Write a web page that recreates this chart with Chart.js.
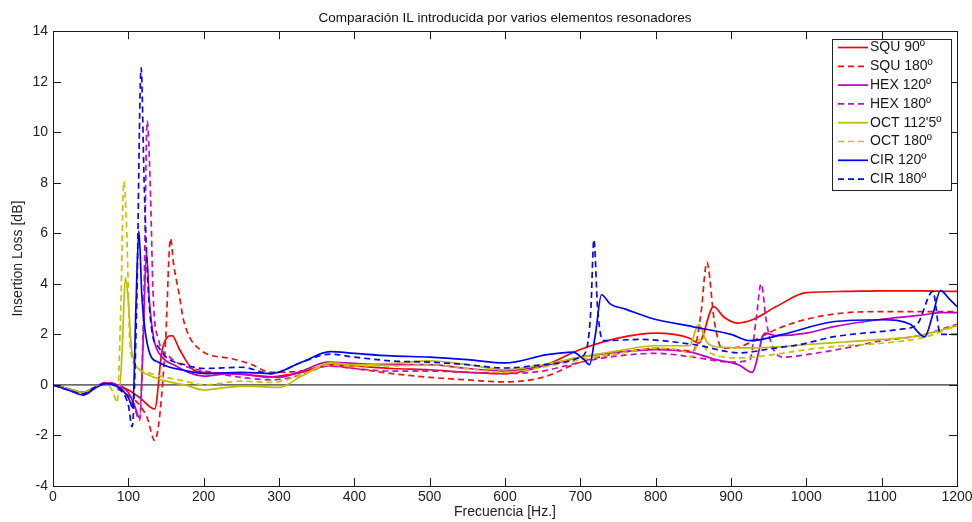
<!DOCTYPE html>
<html>
<head>
<meta charset="utf-8">
<script src="https://cdn.jsdelivr.net/npm/chart.js@4.4.1/dist/chart.umd.min.js"></script>
<style>
  html, body { margin: 0; padding: 0; background: #ffffff; }
  #c { display: block; }
</style>
</head>
<body>
<canvas id="c" width="972" height="522"></canvas>
<script>
// Series names (legend order)
const seriesNames = ['SQU 90º', 'SQU 180º', 'HEX 120º', 'HEX 180º', 'OCT 112\'5º', 'OCT 180º', 'CIR 120º', 'CIR 180º'];

// Axis ticks
const xTicks = [0, 100, 200, 300, 400, 500, 600, 700, 800, 900, 1000, 1100, 1200];
const yTicks = [-4, -2, 0, 2, 4, 6, 8, 10, 12, 14];

// Frequencies [Hz] and insertion loss [dB] for each resonator
const squ90F = [0, 20, 40, 55, 70, 85, 100, 115, 135, 145, 158, 168, 186, 200, 235, 260, 284, 300, 330, 368, 400, 450, 500, 550, 600, 650, 700, 750, 800, 845, 857, 877, 890, 908, 930, 960, 1000, 1050, 1100, 1150, 1200];
const squ90Y = [0, -0.15, -0.3, -0.1, 0.05, 0.0, -0.2, -0.5, -0.95, 1.4, 1.95, 1.4, 0.6, 0.5, 0.45, 0.4, 0.3, 0.35, 0.5, 0.8, 0.75, 0.65, 0.6, 0.5, 0.45, 0.75, 1.4, 1.85, 2.05, 1.85, 1.65, 3.1, 2.7, 2.45, 2.6, 3.1, 3.65, 3.7, 3.72, 3.72, 3.7];

const squ180F = [0, 20, 40, 55, 70, 85, 100, 115, 125, 135, 149, 156, 160, 168, 173, 195, 235, 260, 290, 330, 368, 400, 450, 500, 550, 600, 650, 700, 750, 800, 850, 860, 868, 878, 888, 910, 940, 960, 1000, 1050, 1100, 1150, 1200];
const squ180Y = [0, -0.15, -0.3, -0.1, 0.05, -0.05, -0.4, -0.8, -1.3, -2.2, 1.5, 5.8, 4.8, 3.5, 2.6, 1.4, 1.05, 0.85, 0.5, 0.55, 0.75, 0.65, 0.45, 0.3, 0.2, 0.12, 0.3, 0.9, 1.25, 1.45, 1.35, 2.8, 4.85, 2.5, 1.45, 1.5, 1.9, 2.2, 2.6, 2.85, 2.9, 2.9, 2.9];

const hex120F = [0, 20, 40, 55, 70, 85, 100, 108, 115, 120, 124, 128, 134, 145, 160, 200, 235, 260, 300, 330, 365, 400, 450, 500, 550, 600, 650, 700, 750, 800, 846, 880, 910, 928, 945, 960, 1000, 1035, 1100, 1150, 1178, 1200];
const hex120Y = [0, -0.15, -0.3, -0.1, 0.08, 0.0, -0.3, -0.8, -1.3, 2.0, 5.3, 3.3, 1.8, 1.1, 0.8, 0.35, 0.45, 0.4, 0.3, 0.55, 0.9, 0.85, 0.8, 0.8, 0.65, 0.55, 0.75, 1.1, 1.3, 1.4, 1.3, 1.0, 0.8, 0.5, 2.05, 1.95, 2.05, 2.3, 2.6, 2.75, 2.86, 2.86];

const hex180F = [0, 20, 40, 55, 70, 85, 100, 108, 115, 121, 125, 129, 133, 140, 155, 175, 210, 250, 290, 330, 365, 400, 450, 500, 550, 600, 650, 700, 750, 800, 850, 900, 925, 933, 940, 947, 955, 970, 1000, 1050, 1100, 1150, 1200];
const hex180Y = [0, -0.15, -0.3, -0.1, 0.1, 0.0, -0.5, -0.9, -1.4, 4.0, 10.45, 8.0, 3.5, 1.8, 1.1, 0.75, 0.5, 0.3, 0.2, 0.4, 0.75, 0.65, 0.55, 0.55, 0.5, 0.45, 0.55, 0.9, 1.15, 1.25, 1.1, 0.9, 1.0, 2.5, 4.0, 2.5, 1.5, 1.1, 1.2, 1.45, 1.75, 1.95, 2.4];

const oct112F = [0, 20, 40, 55, 70, 85, 88, 92, 96, 100, 104, 108, 115, 130, 150, 175, 200, 230, 260, 300, 330, 368, 400, 450, 500, 550, 600, 650, 700, 750, 800, 845, 857, 868, 883, 925, 960, 1000, 1050, 1100, 1150, 1200];
const oct112Y = [0, -0.15, -0.3, -0.1, 0.05, -0.1, -0.2, 1.5, 4.25, 3.3, 1.5, 0.9, 0.6, 0.35, 0.15, 0.0, -0.2, -0.1, -0.05, -0.1, 0.35, 0.87, 0.8, 0.85, 0.95, 0.8, 0.6, 0.8, 1.1, 1.35, 1.55, 1.55, 2.4, 1.7, 1.5, 1.47, 1.5, 1.6, 1.7, 1.8, 1.95, 2.35];

const oct180F = [0, 20, 40, 55, 70, 80, 85, 90, 94, 98, 102, 111, 125, 150, 175, 200, 250, 290, 330, 368, 400, 450, 500, 550, 600, 650, 700, 750, 800, 840, 848, 858, 870, 912, 956, 1000, 1050, 1100, 1158, 1200];
const oct180Y = [0, -0.15, -0.3, -0.1, 0.05, -0.3, -0.7, 3.0, 8.05, 6.0, 1.7, 0.7, 0.5, 0.3, 0.15, 0.0, 0.15, 0.1, 0.4, 0.8, 0.75, 0.75, 0.8, 0.65, 0.5, 0.7, 1.0, 1.25, 1.45, 1.3, 1.1, 1.8, 1.3, 1.07, 1.2, 1.4, 1.55, 1.65, 1.9, 2.35];

const cir120F = [0, 20, 40, 55, 70, 85, 100, 106, 110, 114, 118, 122, 129, 140, 155, 170, 204, 250, 290, 330, 368, 400, 450, 500, 550, 600, 656, 690, 705, 712, 720, 728, 740, 760, 793, 850, 900, 925, 969, 1035, 1102, 1138, 1157, 1168, 1178, 1190, 1200];
const cir120Y = [0, -0.2, -0.4, -0.15, 0.05, -0.05, -0.5, -0.9, 3.0, 6.1, 3.5, 2.2, 1.2, 0.9, 0.7, 0.6, 0.45, 0.5, 0.45, 0.9, 1.32, 1.25, 1.15, 1.1, 1.0, 0.87, 1.2, 1.3, 1.0, 0.8, 2.0, 3.57, 3.2, 3.0, 2.65, 2.3, 2.0, 1.75, 2.0, 2.5, 2.58, 2.4, 1.9, 2.8, 3.73, 3.4, 3.1];

const cir180F = [0, 20, 40, 55, 70, 85, 100, 105, 111, 117, 121, 126, 132, 140, 150, 175, 200, 250, 290, 330, 368, 400, 450, 500, 550, 600, 650, 700, 709, 714, 718, 723, 730, 779, 850, 912, 956, 992, 1035, 1124, 1147, 1168, 1178, 1200];
const cir180Y = [0, -0.2, -0.35, -0.1, 0.05, -0.1, -0.8, -1.65, 3.0, 12.55, 8.0, 4.0, 2.0, 1.5, 1.1, 0.8, 0.65, 0.7, 0.45, 0.9, 1.22, 1.1, 0.95, 0.9, 0.8, 0.67, 0.8, 1.1, 1.5, 3.0, 5.75, 3.0, 1.75, 1.8, 1.6, 1.27, 1.45, 1.6, 1.9, 2.2, 2.4, 3.7, 2.0, 2.0];

const seriesF = [squ90F, squ180F, hex120F, hex180F, oct112F, oct180F, cir120F, cir180F];
const seriesY = [squ90Y, squ180Y, hex120Y, hex180Y, oct112Y, oct180Y, cir120Y, cir180Y];
const seriesColors = ['#ff0000', '#ee1111', '#c000c0', '#c010c0', '#bdbd00', '#c4c400', '#0000ff', '#0a0ae0'];
const seriesDashed = [false, true, false, true, false, true, false, true];

const FONT = '"Liberation Sans", Arial, sans-serif';

const datasets = seriesNames.map((name, i) => ({
  label: name,
  data: seriesF[i].map((f, k) => ({ x: f, y: seriesY[i][k] })),
  borderColor: seriesColors[i],
  borderWidth: 1.7,
  borderDash: seriesDashed[i] ? [6, 4] : [],
  pointRadius: 0,
  fill: false,
  cubicInterpolationMode: 'monotone',
  order: seriesNames.length - 1 - i
}));

// Reference line at 0 dB
datasets.push({
  label: '',
  data: [{ x: 0, y: 0 }, { x: 1200, y: 0 }],
  borderColor: '#000000',
  borderWidth: 1,
  pointRadius: 0,
  fill: false,
  order: 99
});

// Axes box, inward ticks on all four sides, and the boxed legend
const framePlugin = {
  id: 'frame',
  afterDatasetsDraw(chart) {
    const { ctx, chartArea: a, scales: { x, y } } = chart;
    const tl = 8;
    ctx.save();
    ctx.strokeStyle = '#1a1a1a';
    ctx.lineWidth = 1;
    ctx.beginPath();
    xTicks.forEach(v => {
      const px = Math.round(x.getPixelForValue(v)) + 0.5;
      ctx.moveTo(px, a.bottom); ctx.lineTo(px, a.bottom - tl);
      ctx.moveTo(px, a.top); ctx.lineTo(px, a.top + tl);
    });
    yTicks.forEach(v => {
      const py = Math.round(y.getPixelForValue(v)) + 0.5;
      ctx.moveTo(a.left, py); ctx.lineTo(a.left + tl, py);
      ctx.moveTo(a.right, py); ctx.lineTo(a.right - tl, py);
    });
    ctx.stroke();
    ctx.strokeRect(Math.round(a.left) + 0.5, Math.round(a.top) + 0.5, Math.round(a.right - a.left), Math.round(a.bottom - a.top));

    // legend
    const bx = 832.5, by = 39.5, bw = 119, bh = 151;
    ctx.fillStyle = '#ffffff';
    ctx.fillRect(bx, by, bw, bh);
    ctx.strokeStyle = '#222222';
    ctx.strokeRect(bx, by, bw, bh);
    ctx.font = '14px ' + FONT;
    ctx.textBaseline = 'middle';
    ctx.textAlign = 'left';
    seriesNames.forEach((name, i) => {
      const ry = 47.5 + i * 18.8;
      ctx.strokeStyle = seriesColors[i];
      ctx.lineWidth = 1.7;
      ctx.setLineDash(seriesDashed[i] ? [6, 4] : []);
      ctx.beginPath();
      ctx.moveTo(838, ry); ctx.lineTo(868, ry);
      ctx.stroke();
      ctx.setLineDash([]);
      ctx.fillStyle = '#1a1a1a';
      ctx.fillText(name, 870, ry);
    });
    ctx.restore();
  }
};

new Chart(document.getElementById('c'), {
  type: 'line',
  data: { datasets },
  options: {
    responsive: false,
    animation: false,
    layout: { padding: { top: 0, right: 15, left: 0, bottom: 0 } },
    scales: {
      x: {
        type: 'linear',
        min: 0, max: 1200,
        afterBuildTicks(s) { s.ticks = xTicks.map(v => ({ value: v })); },
        ticks: { color: '#222', font: { family: FONT, size: 14 }, padding: 3, maxRotation: 0, autoSkip: false, callback: v => String(v) },
        grid: { display: false, drawTicks: false },
        border: { display: false },
        title: { display: true, text: 'Frecuencia [Hz.]', color: '#222', font: { family: FONT, size: 14 }, padding: { top: 0, bottom: 1 } },
        afterFit(s) { s.height = 36; s.paddingLeft = 0; s.paddingRight = 0; }
      },
      y: {
        type: 'linear',
        min: -4, max: 14,
        afterBuildTicks(s) { s.ticks = yTicks.map(v => ({ value: v })); },
        ticks: { color: '#222', font: { family: FONT, size: 14 }, padding: 5, callback: v => String(v) },
        grid: { display: false, drawTicks: false },
        border: { display: false },
        title: { display: true, text: 'Insertion Loss [dB]', color: '#222', font: { family: FONT, size: 14 }, padding: { top: 10, bottom: 0 } },
        afterFit(s) { s.width = 53; }
      }
    },
    plugins: {
      legend: { display: false },
      tooltip: { enabled: false },
      title: {
        display: true,
        fullSize: false,
        text: 'Comparación IL introducida por varios elementos resonadores',
        color: '#111',
        font: { family: FONT, size: 13.5, weight: 'normal' },
        padding: { top: 10, bottom: 5 }
      }
    }
  },
  plugins: [framePlugin]
});
</script>
</body>
</html>
